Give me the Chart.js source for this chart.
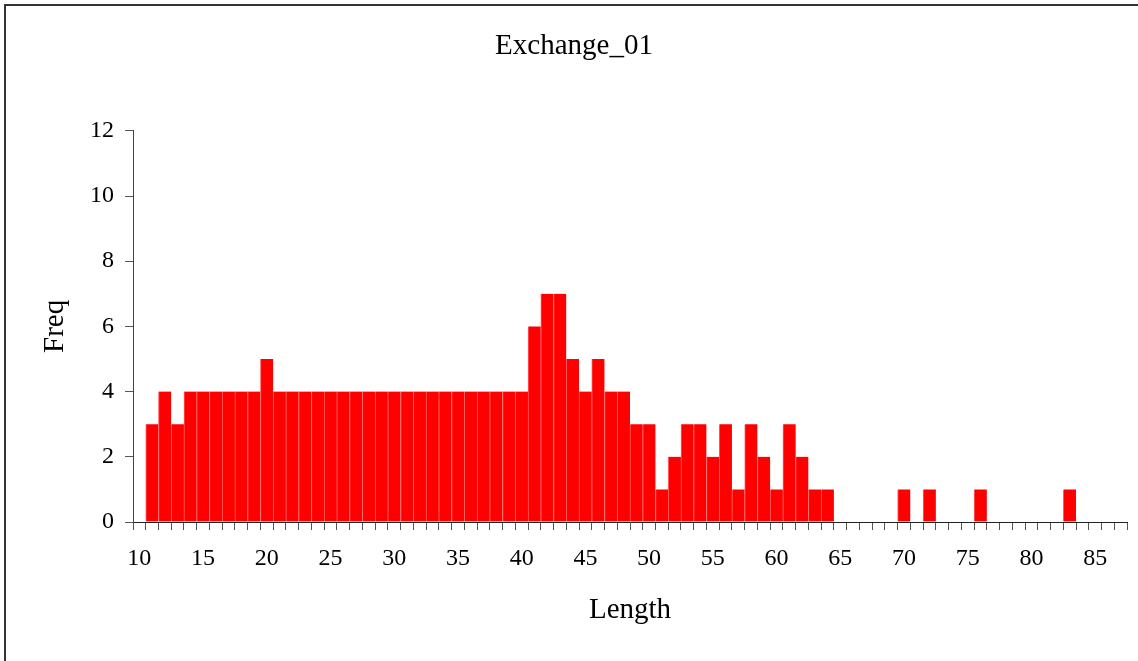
<!DOCTYPE html>
<html>
<head>
<meta charset="utf-8">
<script src="https://cdn.jsdelivr.net/npm/chart.js@4/dist/chart.umd.min.js"></script>
<style>
  html, body { margin: 0; padding: 0; background: #ffffff; }
  #wrap { position: relative; width: 1138px; height: 661px; overflow: hidden; }
  #frame { position: absolute; left: 4px; top: 4px; width: 2000px; height: 2000px;
           border-left: 2px solid #333; border-top: 2px solid #333; pointer-events: none; }
  canvas { position: absolute; left: 0; top: 0; }
</style>
</head>
<body>
<div id="wrap">
  <canvas id="c" width="1138" height="661"></canvas>
  <div id="frame"></div>
</div>
<script>
const chartTitle = "Exchange_01";
const xTitle = "Length";
const yTitle = "Freq";
const lengths = [
  "10","11","12","13","14","15","16","17","18","19",
  "20","21","22","23","24","25","26","27","28","29",
  "30","31","32","33","34","35","36","37","38","39",
  "40","41","42","43","44","45","46","47","48","49",
  "50","51","52","53","54","55","56","57","58","59",
  "60","61","62","63","64","65","66","67","68","69",
  "70","71","72","73","74","75","76","77","78","79",
  "80","81","82","83","84","85","86","87"
];
const freq = [
  0,3,4,3,4,4,4,4,4,4,
  5,4,4,4,4,4,4,4,4,4,
  4,4,4,4,4,4,4,4,4,4,
  4,6,7,7,5,4,5,4,4,3,
  3,1,2,3,3,2,3,1,3,2,
  1,3,2,1,1,0,0,0,0,0,
  1,0,1,0,0,0,1,0,0,0,
  0,0,0,1,0,0,0,0
];
const yTicksMin = 0, yTicksMax = 12, yTicksStep = 2;
const labelEvery = 5;

const serif = "'Liberation Serif', 'Times New Roman', serif";

new Chart(document.getElementById('c'), {
  type: 'bar',
  data: {
    labels: lengths,
    datasets: [{
      data: freq,
      backgroundColor: '#ff0000',
      borderColor: '#ff6060',
      borderWidth: { left: 1, top: 0, right: 0, bottom: 0 },
      borderSkipped: false,
      barPercentage: 1.0,
      categoryPercentage: 1.0
    }]
  },
  options: {
    responsive: false,
    animation: false,
    devicePixelRatio: 1,
    layout: { padding: { left: 21, right: 11, top: 0, bottom: 0 } },
    plugins: {
      legend: { display: false },
      tooltip: { enabled: false },
      title: {
        display: true,
        text: chartTitle,
        color: '#000',
        font: { family: serif, size: 29, weight: 'normal', lineHeight: 1.2 },
        padding: { top: 29, bottom: 67 }
      }
    },
    scales: {
      x: {
        type: 'category',
        offset: true,
        afterFit: s => { s.height = 139; },
        grid: {
          offset: true,
          display: true,
          drawOnChartArea: false,
          drawTicks: true,
          tickLength: 8,
          tickColor: '#555',
          tickWidth: 1
        },
        border: { display: true, color: '#222', width: 1 },
        ticks: {
          autoSkip: false,
          maxRotation: 0,
          minRotation: 0,
          padding: 14,
          color: '#000',
          font: { family: serif, size: 24 },
          callback: function (v) {
            const l = this.getLabelForValue(v);
            return Number(l) % labelEvery === 0 ? l : '';
          }
        },
        title: {
          display: true,
          text: xTitle,
          color: '#000',
          font: { family: serif, size: 29, lineHeight: 1.2 },
          padding: { top: 0, bottom: 33 }
        }
      },
      y: {
        min: yTicksMin,
        max: yTicksMax,
        afterFit: s => { s.width = 112; },
        grid: {
          display: true,
          drawOnChartArea: false,
          drawTicks: true,
          tickLength: 8,
          tickColor: '#555',
          tickWidth: 1
        },
        border: { display: true, color: '#444', width: 1 },
        ticks: {
          stepSize: yTicksStep,
          padding: 11,
          color: '#000',
          font: { family: serif, size: 24 }
        },
        title: {
          display: true,
          text: yTitle,
          color: '#000',
          font: { family: serif, size: 29, lineHeight: 1.2 },
          padding: { top: 17, bottom: 0 }
        }
      }
    }
  }
});
</script>
</body>
</html>
